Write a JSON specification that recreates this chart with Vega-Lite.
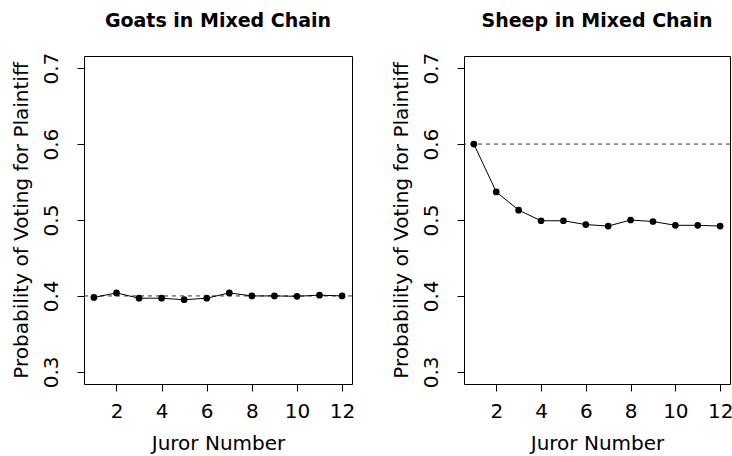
{
  "$schema": "https://vega.github.io/schema/vega-lite/v6.json",
  "background": "white",
  "padding": {"left": 10, "top": 11, "right": 0, "bottom": 0},
  "spacing": 34,
  "datasets": {
    "goats": [
      {"juror": 1, "p": 0.398}, {"juror": 2, "p": 0.404}, {"juror": 3, "p": 0.397},
      {"juror": 4, "p": 0.397}, {"juror": 5, "p": 0.395}, {"juror": 6, "p": 0.397},
      {"juror": 7, "p": 0.404}, {"juror": 8, "p": 0.400}, {"juror": 9, "p": 0.400},
      {"juror": 10, "p": 0.3995}, {"juror": 11, "p": 0.401}, {"juror": 12, "p": 0.400}
    ],
    "sheep": [
      {"juror": 1, "p": 0.600}, {"juror": 2, "p": 0.537}, {"juror": 3, "p": 0.513},
      {"juror": 4, "p": 0.499}, {"juror": 5, "p": 0.499}, {"juror": 6, "p": 0.494},
      {"juror": 7, "p": 0.492}, {"juror": 8, "p": 0.500}, {"juror": 9, "p": 0.498},
      {"juror": 10, "p": 0.493}, {"juror": 11, "p": 0.493}, {"juror": 12, "p": 0.492}
    ],
    "refGoats": [{"ref": 0.4}],
    "refSheep": [{"ref": 0.6}]
  },
  "config": {
    "font": "DejaVu Sans",
    "view": {"stroke": "black", "strokeWidth": 1},
    "axis": {
      "domain": false, "grid": false, "ticks": true, "tickColor": "black", "tickSize": 7,
      "labelFont": "DejaVu Sans", "labelFontSize": 20, "labelColor": "black",
      "titleFont": "DejaVu Sans", "titleFontSize": 20, "titleFontWeight": "normal", "titleColor": "black"
    },
    "axisX": {"labelPadding": 10, "titlePadding": 12, "labelFlush": false},
    "axisY": {"labelAngle": -90, "labelAlign": "center", "labelBaseline": "alphabetic", "labelPadding": 20, "titlePadding": 10},
    "title": {"font": "DejaVu Sans", "fontSize": 19, "fontWeight": "bold", "color": "black", "anchor": "middle", "baseline": "alphabetic", "offset": 21}
  },
  "hconcat": [
    {
      "width": 268, "height": 328,
      "title": "Goats in Mixed Chain",
      "layer": [
        {
          "data": {"name": "refGoats"},
          "mark": {"type": "rule", "strokeDash": [4, 4], "color": "#333", "strokeWidth": 1},
          "encoding": {"y": {"field": "ref", "type": "quantitative", "scale": {"domain": [0.284, 0.716], "nice": false, "zero": false}}}
        },
        {
          "data": {"name": "goats"},
          "mark": {"type": "line", "color": "black", "strokeWidth": 1},
          "encoding": {
            "x": {"field": "juror", "type": "quantitative", "title": "Juror Number", "scale": {"domain": [0.56, 12.44], "nice": false, "zero": false}, "axis": {"values": [2, 4, 6, 8, 10, 12]}},
            "y": {"field": "p", "type": "quantitative", "title": "Probability of Voting for Plaintiff", "scale": {"domain": [0.284, 0.716], "nice": false, "zero": false}, "axis": {"values": [0.3, 0.4, 0.5, 0.6, 0.7], "format": ".1f"}}
          }
        },
        {
          "data": {"name": "goats"},
          "mark": {"type": "point", "filled": true, "color": "black", "size": 45, "opacity": 1},
          "encoding": {
            "x": {"field": "juror", "type": "quantitative"},
            "y": {"field": "p", "type": "quantitative"}
          }
        }
      ]
    },
    {
      "width": 266, "height": 328,
      "title": "Sheep in Mixed Chain",
      "layer": [
        {
          "data": {"name": "refSheep"},
          "mark": {"type": "rule", "strokeDash": [4, 4], "color": "#333", "strokeWidth": 1},
          "encoding": {"y": {"field": "ref", "type": "quantitative", "scale": {"domain": [0.284, 0.716], "nice": false, "zero": false}}}
        },
        {
          "data": {"name": "sheep"},
          "mark": {"type": "line", "color": "black", "strokeWidth": 1},
          "encoding": {
            "x": {"field": "juror", "type": "quantitative", "title": "Juror Number", "scale": {"domain": [0.56, 12.44], "nice": false, "zero": false}, "axis": {"values": [2, 4, 6, 8, 10, 12]}},
            "y": {"field": "p", "type": "quantitative", "title": "Probability of Voting for Plaintiff", "scale": {"domain": [0.284, 0.716], "nice": false, "zero": false}, "axis": {"values": [0.3, 0.4, 0.5, 0.6, 0.7], "format": ".1f"}}
          }
        },
        {
          "data": {"name": "sheep"},
          "mark": {"type": "point", "filled": true, "color": "black", "size": 45, "opacity": 1},
          "encoding": {
            "x": {"field": "juror", "type": "quantitative"},
            "y": {"field": "p", "type": "quantitative"}
          }
        }
      ]
    }
  ]
}
